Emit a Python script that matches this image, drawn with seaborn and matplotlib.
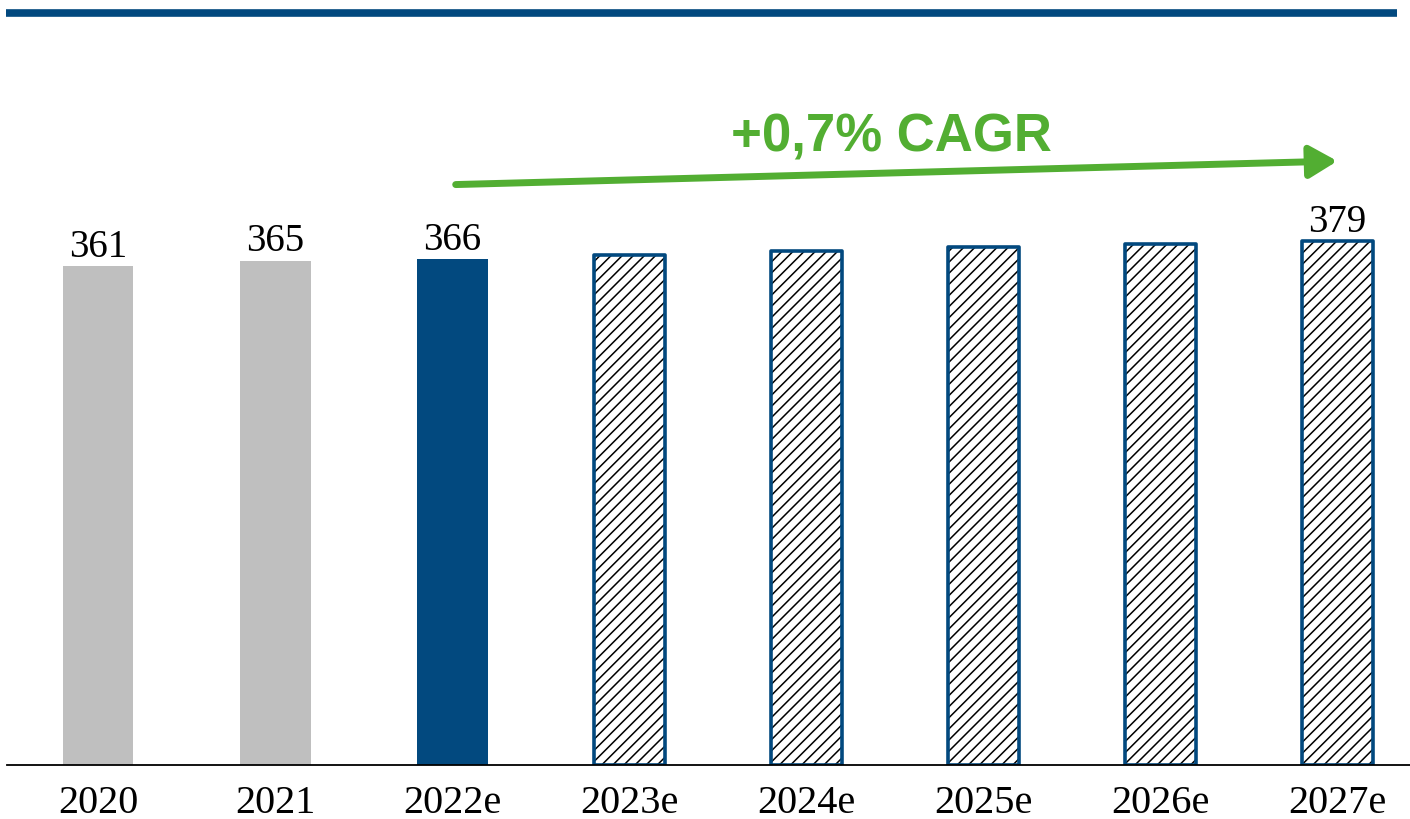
import matplotlib
matplotlib.use("Agg")
import matplotlib.pyplot as plt
import seaborn as sns
import pandas as pd
from matplotlib.patches import Rectangle

years = ["2020", "2021", "2022e", "2023e", "2024e", "2025e", "2026e", "2027e"]
values = [361, 365, 366, 369, 372, 375, 377, 379]
kinds = ["actual", "actual", "current", "forecast", "forecast", "forecast", "forecast", "forecast"]
shown_labels = ["361", "365", "366", "", "", "", "", "379"]
cagr_text = "+0,7% CAGR"

GREY = "#BFBFBF"
BLUE = "#02497F"
GREEN = "#52AE32"

sns.set_theme(style="white")
plt.rcParams["font.family"] = ["Liberation Serif", "DejaVu Serif"]
plt.rcParams["hatch.linewidth"] = 1.1

df = pd.DataFrame({"year": years, "value": values, "kind": kinds})

fig = plt.figure(figsize=(14.1, 8.2), dpi=100)
ax = fig.add_axes([0.005, 54 / 820, 0.995, 691 / 820])

palette = {"actual": GREY, "current": BLUE, "forecast": "white"}
sns.barplot(data=df, x="year", y="value", hue="kind", palette=palette,
            dodge=False, width=0.4, legend=False, ax=ax, saturation=1,
            linewidth=0)

patches = sorted([p for p in ax.patches if p.get_height() > 0], key=lambda p: p.get_x())
for p, k in zip(patches, kinds):
    if k == "forecast":
        p.set_facecolor("white")
        p.set_edgecolor("black")
        p.set_hatch("///")
        p.set_linewidth(0)
        ax.add_patch(Rectangle((p.get_x(), p.get_y()), p.get_width(), p.get_height(),
                               fill=False, edgecolor=BLUE, linewidth=2.6, zorder=3,
                               joinstyle="round"))

for i, (v, lab) in enumerate(zip(values, shown_labels)):
    if lab:
        ax.text(i, v + 7.5, lab, ha="center", va="baseline", fontsize=28,
                color="black")

ax.set_xlim(-0.514, 7.41)
ax.set_ylim(0, 500)
ax.set_xlabel("")
ax.set_ylabel("")
ax.set_yticks([])
ax.tick_params(axis="x", labelsize=29, pad=14, length=0, colors="black")
for s in ["top", "right", "left"]:
    ax.spines[s].set_visible(False)
ax.spines["bottom"].set_color("black")
ax.spines["bottom"].set_linewidth(1.3)
ax.spines["bottom"].set_zorder(4)

# CAGR arrow
ax.annotate("", xy=(7.0, 437), xytext=(2.02, 420),
            arrowprops=dict(arrowstyle="-|>,head_length=0.6,head_width=0.35",
                            mutation_scale=28, lw=5, color=GREEN,
                            shrinkA=0, shrinkB=0))
ax.text(4.48, 455, cagr_text, ha="center", va="center", fontsize=38,
        fontweight="bold", color=GREEN, family=["Liberation Sans", "DejaVu Sans"])

# top rule
fig.add_artist(plt.Line2D([6 / 1410, 1397 / 1410], [1 - 13.5 / 820, 1 - 13.5 / 820],
                          color=BLUE, linewidth=5.5, solid_capstyle="butt"))

fig.savefig("out.png", dpi=100)
